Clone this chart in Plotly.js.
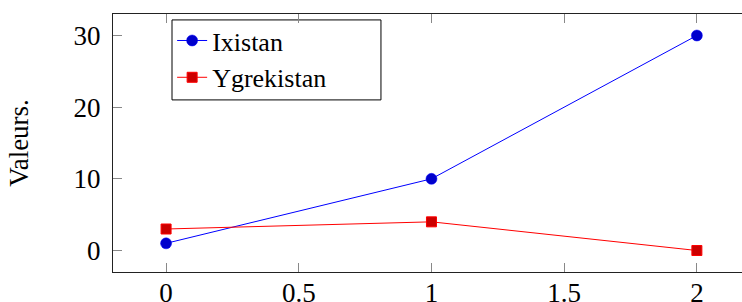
<!DOCTYPE html>
<html>
<head>
<meta charset="utf-8">
<script src="https://cdn.plot.ly/plotly-3.0.1.min.js"></script>
<style>html,body{margin:0;padding:0;background:#fff;}#chart{width:742px;height:302px;}</style>
</head>
<body>
<div id="chart"></div>
<script>
const xValues = [0, 1, 2];
const ixistan = [1, 10, 30];
const ygrekistan = [3, 4, 0];
const seriesNames = ["Ixistan", "Ygrekistan"];
const xTicks = [0, 0.5, 1, 1.5, 2];
const xTickLabels = ["0", "0.5", "1", "1.5", "2"];
const yTicks = [0, 10, 20, 30];
const yTickLabels = ["0", "10", "20", "30"];
const yTitle = "Valeurs.";

const FONT = "'Liberation Serif', 'DejaVu Serif', serif";
const FS = 27;

const traces = [
  {
    x: xValues, y: ixistan, name: seriesNames[0], type: "scatter", mode: "lines+markers",
    line: {color: "#0000ff", width: 1},
    marker: {symbol: "circle", size: 11, color: "#0000cc", line: {color: "#0000ff", width: 0.5}}
  },
  {
    x: xValues, y: ygrekistan, name: seriesNames[1], type: "scatter", mode: "lines+markers",
    line: {color: "#ff0000", width: 1},
    marker: {symbol: "square", size: 10, color: "#cc0000", line: {color: "#ff0000", width: 1}}
  }
];

const layout = {
  width: 742, height: 302,
  margin: {l: 113, r: 0, t: 14, b: 30, pad: 0},
  paper_bgcolor: "#fff", plot_bgcolor: "#fff",
  font: {family: FONT, size: FS, color: "#000"},
  showlegend: true,
  legend: {
    x: 0.094, y: 0.988, xanchor: "left", yanchor: "top",
    borderwidth: 0, bgcolor: "rgba(0,0,0,0)",
    font: {family: FONT, size: 26, color: "#000"},
    tracegroupgap: 0, itemwidth: 30
  },
  shapes: [{
    type: "rect", xref: "paper", yref: "paper",
    x0: 0.0938, x1: 0.426, y0: 0.667, y1: 0.977,
    line: {color: "#000", width: 1}, fillcolor: "#fff", layer: "below"
  }],
  xaxis: {
    range: [-0.2, 2.17],
    tickvals: xTicks, ticktext: xTickLabels,
    ticks: "inside", ticklen: 9, tickcolor: "#888", tickwidth: 1,
    showline: true, linecolor: "#222", linewidth: 1, mirror: "allticks",
    showgrid: false, zeroline: false,
    tickfont: {family: FONT, size: FS, color: "#000"},
    ticklabelstandoff: -3
  },
  yaxis: {
    range: [-3, 33],
    tickvals: yTicks, ticktext: yTickLabels,
    ticks: "inside", ticklen: 9, tickcolor: "#888", tickwidth: 1,
    showline: true, linecolor: "#222", linewidth: 1, mirror: false,
    showgrid: false, zeroline: false,
    tickfont: {family: FONT, size: FS, color: "#000"},
    ticklabelstandoff: 6,
    title: {text: yTitle, font: {family: FONT, size: FS, color: "#000"}, standoff: 37}
  }
};

Plotly.newPlot("chart", traces, layout, {staticPlot: true, displayModeBar: false});
</script>
</body>
</html>
